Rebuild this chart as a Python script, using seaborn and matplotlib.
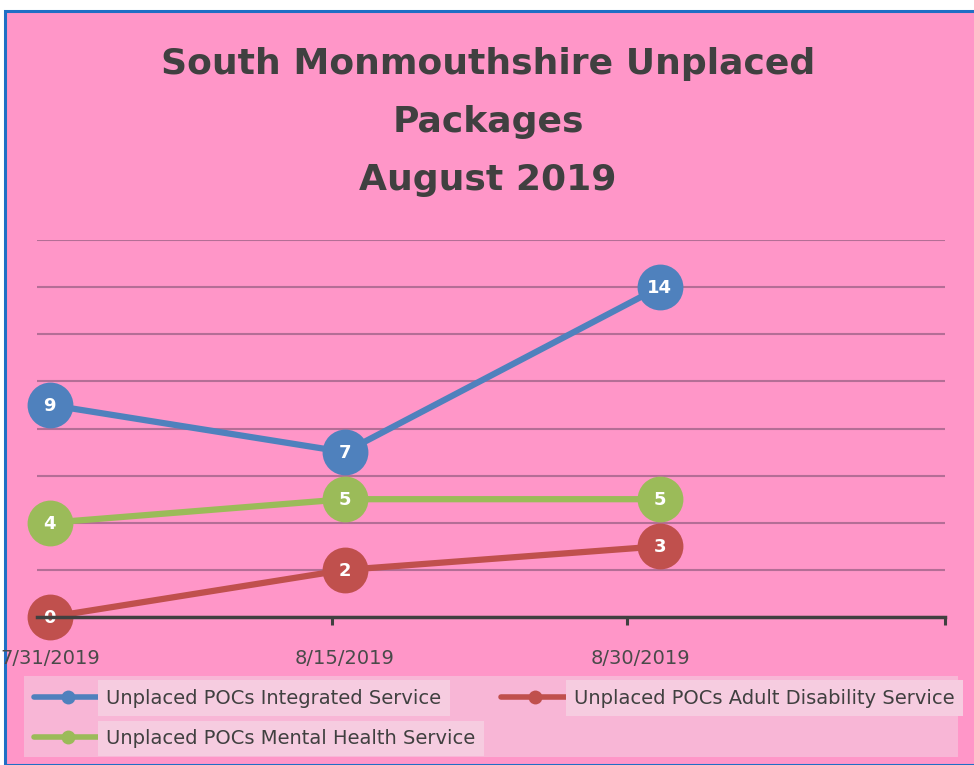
import pandas as pd
import matplotlib
matplotlib.use("Agg")
import matplotlib.pyplot as plt
import matplotlib.ticker as ticker
from matplotlib.lines import Line2D
from matplotlib.patches import Rectangle
import seaborn as sns

# data
dates = ["2019-07-31", "2019-08-15", "2019-08-31"]
series_names = ["Unplaced POCs Integrated Service",
                "Unplaced POCs Adult Disability Service",
                "Unplaced POCs Mental Health Service"]
integrated = [9, 7, 14]
adult_disability = [0, 2, 3]
mental_health = [4, 5, 5]
tick_labels = ["7/31/2019", "8/15/2019", "8/30/2019"]
tick_days = [0, 15, 30]
colors = ["#4F81BD", "#C0504D", "#9BBB59"]

start = pd.Timestamp(dates[0])
days = [(pd.Timestamp(d) - start).days for d in dates]
df = pd.DataFrame({
    "day": days * 3,
    "value": integrated + adult_disability + mental_health,
    "series": sum([[n] * len(days) for n in series_names], []),
})

pink = "#FF96C8"
sns.set_theme(style="white")
plt.rcParams["font.family"] = ["DejaVu Sans"]

fig = plt.figure(figsize=(9.74, 7.65), dpi=100, facecolor="white")
W, H = 974, 765
# chart area with blue border (left/top visible)
fig.patches.append(Rectangle((5 / W, 0), 1, (H - 11) / H, transform=fig.transFigure,
                             facecolor=pink, edgecolor="#1F6FC5", lw=2.2, zorder=-2))
# legend backdrop
fig.patches.append(Rectangle((24 / W, (H - 757) / H), (958 - 24) / W, 81 / H,
                             transform=fig.transFigure, facecolor="#F8B6D6",
                             edgecolor="none", zorder=-1))

ax = fig.add_axes([37 / W, (H - 617) / H, (945 - 37) / W, (617 - 240) / H])
ax.set_facecolor("none")

sns.lineplot(data=df, x="day", y="value", hue="series", palette=colors,
             marker="o", markersize=33, linewidth=4.5, markeredgewidth=0,
             legend=False, ax=ax, zorder=3, clip_on=False)
for line in ax.lines:
    line.set_clip_on(False)

for _, row in df.iterrows():
    ax.text(row["day"], row["value"] - 0.05, str(row["value"]), ha="center", va="center",
            color="white", fontsize=13, fontweight="bold", zorder=4)

ax.set_xlim(-0.65, 45.5)
ax.set_ylim(0, 16)
ax.yaxis.set_major_locator(ticker.MultipleLocator(2))
ax.yaxis.grid(True, color="#B46E96", lw=1.5)
ax.set_yticklabels([])
ax.tick_params(axis="y", length=0)

ax.set_xticks(tick_days)
ax.set_xticklabels(tick_labels, fontsize=14, color="#4A4A4A")
ax.set_xticks([-0.65, 14.35, 29.35, 45.5], minor=True)
ax.tick_params(axis="x", which="major", length=0, pad=23)
ax.tick_params(axis="x", which="minor", length=6, width=2.2, color="#404040",
               direction="out", bottom=True)
ax.set_xlabel("")
ax.set_ylabel("")

for s in ["left", "right", "top"]:
    ax.spines[s].set_visible(False)
ax.spines["bottom"].set_color("#404040")
ax.spines["bottom"].set_linewidth(2.5)
ax.spines["bottom"].set_zorder(5)

fig.text(488 / W, 1 - 122 / H, "South Monmouthshire Unplaced\nPackages\nAugust 2019",
         ha="center", va="center", fontsize=26, fontweight="bold",
         color="#404040", linespacing=1.9)

# legend laid out row-wise: Integrated, Adult / Mental
order = [0, 2, 1]
handles = [Line2D([0], [0], color=colors[i], lw=4, marker="o", markersize=10,
                  markeredgewidth=0) for i in order]
labels = [series_names[i] for i in order]
leg = fig.legend(handles, labels, loc="upper left",
                 bbox_to_anchor=(16 / W, 1 - 671 / H), ncol=2, frameon=False,
                 fontsize=14, handlelength=3.5, handletextpad=0.25,
                 columnspacing=1.3, labelspacing=1.1)
for t in leg.get_texts():
    t.set_color("#404040")
    t.set_bbox(dict(facecolor="#F6CCE0", edgecolor="none", pad=6))

fig.savefig("out.png", dpi=100, facecolor="white")
